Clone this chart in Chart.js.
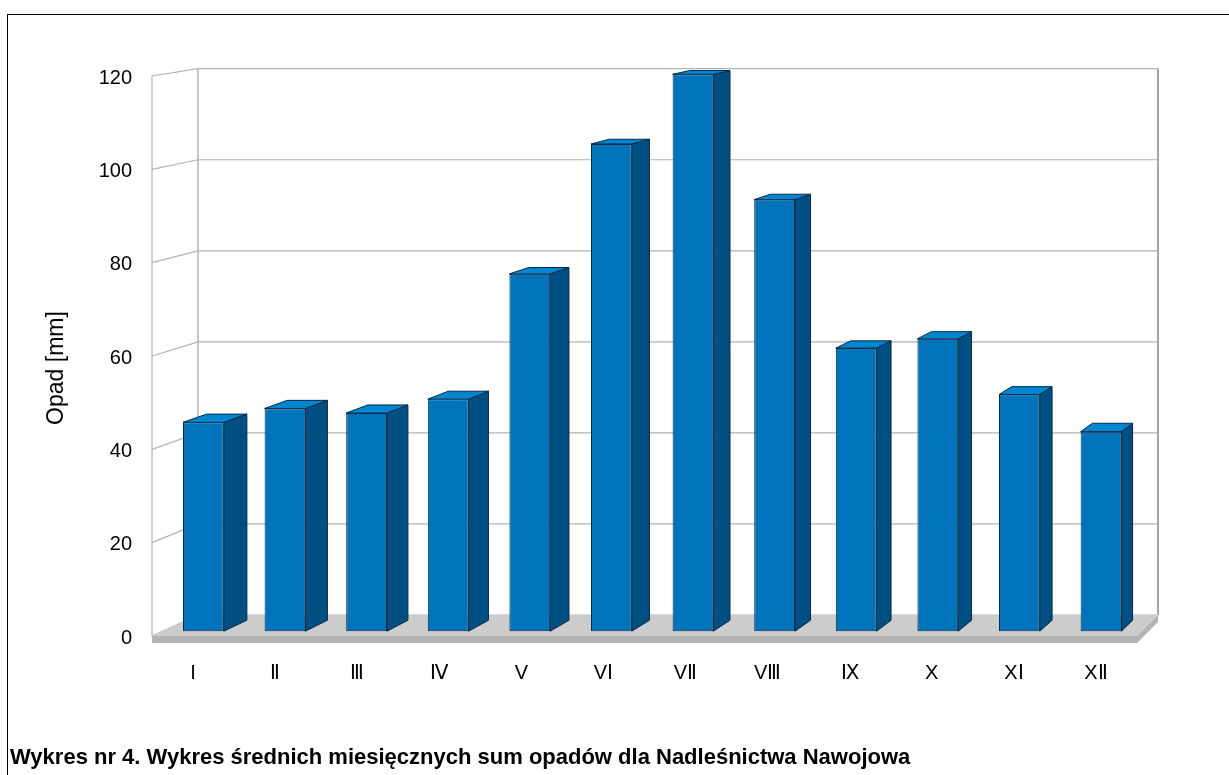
<!DOCTYPE html>
<html><head><meta charset="utf-8">
<script src="https://cdn.jsdelivr.net/npm/chart.js@4.4.0/dist/chart.umd.min.js"></script>
<style>
html,body{margin:0;padding:0;background:#fff;width:1229px;height:775px;overflow:hidden;}
#frame{position:absolute;left:7px;top:14px;width:1240px;height:780px;border-top:1px solid #000;border-left:1px solid #000;}
#c{position:absolute;left:0;top:0;}
#caption{position:absolute;left:10px;top:745px;font:bold 22px "Liberation Sans",Arial,sans-serif;white-space:nowrap;line-height:24px;color:#000;}
</style></head><body>
<div id="frame"></div>
<canvas id="c" width="1229" height="775" style="width:1229px;height:775px"></canvas>
<div id="caption">Wykres nr 4. Wykres średnich miesięcznych sum opadów dla Nadleśnictwa Nawojowa</div>
<script>
// ---- data ----
const months = ['I','Ⅱ','Ⅲ','Ⅳ','V','VⅠ','VⅡ','VⅢ','Ⅸ','X','XⅠ','XⅡ'];
const precipitation = [45,48,47,50,77,105,120,93,61,63,51,43];
const yTicks = [0,20,40,60,80,100,120];
const yAxisTitle = 'Opad [mm]';

// ---- 3D styling constants ----
const DEPTH = {bx:46, by:-21, sx:0.9746, sy:0.9755};
const T_FRONT = 0.23, T_BACK = 0.75;
const FONT = '"Liberation Sans", Arial, sans-serif';

function proj(a, x, y, t){
  const bx = a.left + DEPTH.bx + (x - a.left)*DEPTH.sx;
  const by = a.bottom + DEPTH.by + (y - a.bottom)*DEPTH.sy;
  return [x + t*(bx - x), y + t*(by - y)];
}
function poly(ctx, pts, fill, stroke, lw){
  ctx.beginPath();
  ctx.moveTo(pts[0][0], pts[0][1]);
  for (let i=1;i<pts.length;i++) ctx.lineTo(pts[i][0], pts[i][1]);
  ctx.closePath();
  if (fill){ ctx.fillStyle = fill; ctx.fill(); }
  if (stroke){ ctx.strokeStyle = stroke; ctx.lineWidth = lw||1; ctx.stroke(); }
}
function line(ctx, pts, color, lw){
  ctx.beginPath();
  ctx.moveTo(pts[0][0], pts[0][1]);
  for (let i=1;i<pts.length;i++) ctx.lineTo(pts[i][0], pts[i][1]);
  ctx.strokeStyle = color; ctx.lineWidth = lw; ctx.stroke();
}

const threeD = {
  id:'threeD',
  beforeDatasetsDraw(chart){
    const {ctx, chartArea:a, scales:{y}} = chart;
    const P = (x,yy,t)=>proj(a,x,yy,t);
    ctx.save();
    const gc = '#b3b3b3';
    yTicks.forEach(v=>{
      const py = y.getPixelForValue(v);
      line(ctx, [P(a.left,py,0), P(a.left,py,1), P(a.right,py,1)], gc, 1.2);
    });
    const top = y.getPixelForValue(yTicks[yTicks.length-1]);
    const bot = y.getPixelForValue(0);
    line(ctx, [P(a.left,top,0), P(a.left,bot,0)], gc, 1.2);
    line(ctx, [P(a.left,top,1), P(a.left,bot,1)], gc, 1.5);
    line(ctx, [P(a.right,top,1), P(a.right,bot,1)], '#a6a6a6', 2);
    // floor slab
    const th = 7;
    poly(ctx, [P(a.left,bot,0), P(a.right,bot,0), P(a.right,bot,1), P(a.left,bot,1)], '#cccccc');
    poly(ctx, [[a.left,bot],[a.right,bot],[a.right,bot+th],[a.left,bot+th]], '#b3b3b3');
    const r0 = P(a.right,bot,0), r1 = P(a.right,bot,1);
    poly(ctx, [r0, r1, [r1[0], r1[1]+th], [r0[0], r0[1]+th]], '#b3b3b3');
    ctx.restore();
    // place the front faces of the bars at their depth
    ctx.save();
    const t = T_FRONT;
    const A = 1 - t*(1-DEPTH.sx), D = 1 - t*(1-DEPTH.sy);
    const E = t*(a.left + DEPTH.bx - a.left*DEPTH.sx);
    const F = t*(a.bottom + DEPTH.by - a.bottom*DEPTH.sy);
    ctx.transform(A,0,0,D,E,F);
  },
  afterDatasetsDraw(chart){
    const {ctx, chartArea:a} = chart;
    ctx.restore();
    const P = (x,yy,t)=>proj(a,x,yy,t);
    ctx.save();
    ctx.lineJoin = 'round';
    const meta = chart.getDatasetMeta(0);
    meta.data.forEach(bar=>{
      const {x, y, base, width} = bar.getProps(['x','y','base','width'], true);
      const l = x - width/2, r = x + width/2;
      poly(ctx, [P(r,y,T_FRONT), P(r,y,T_BACK), P(r,base,T_BACK), P(r,base,T_FRONT)], '#004f82', '#0b2a44', 1);
      poly(ctx, [P(l,y,T_FRONT), P(r,y,T_FRONT), P(r,y,T_BACK), P(l,y,T_BACK)], '#0086d1', '#0b2a44', 1);
    });
    ctx.restore();
  },
  afterDraw(chart){
    const {ctx} = chart;
    ctx.save();
    ctx.translate(57, 368);
    ctx.rotate(-Math.PI/2);
    ctx.font = '23px ' + FONT;
    ctx.fillStyle = '#000';
    ctx.textAlign = 'center';
    ctx.textBaseline = 'middle';
    ctx.fillText(yAxisTitle, 0, 0);
    ctx.restore();
  }
};

new Chart(document.getElementById('c'), {
  type:'bar',
  data:{
    labels: months,
    datasets:[{
      data: precipitation,
      backgroundColor:'#0073bb',
      borderColor:'#0b2a44',
      borderWidth:1,
      borderSkipped:false,
      barPercentage:0.5,
      categoryPercentage:1.0,
      clip:false
    }]
  },
  options:{
    responsive:false,
    animation:false,
    devicePixelRatio:1,
    layout:{padding:{left:0, top:76, right:92, bottom:0}},
    plugins:{legend:{display:false}, tooltip:{enabled:false}, title:{display:false}},
    scales:{
      x:{
        type:'category',
        grid:{display:false}, border:{display:false},
        ticks:{color:'#000', font:{family:FONT, size:20}, padding:17, maxRotation:0, autoSkip:false},
        afterFit(s){ s.height = 139; }
      },
      y:{
        min:0, max:120,
        grid:{display:false}, border:{display:false},
        afterBuildTicks(s){ s.ticks = yTicks.map(v=>({value:v})); },
        ticks:{color:'#000', font:{family:FONT, size:20}, padding:12, labelOffset:2},
        afterFit(s){ s.width = 152; }
      }
    }
  },
  plugins:[threeD]
});
</script>
</body></html>
